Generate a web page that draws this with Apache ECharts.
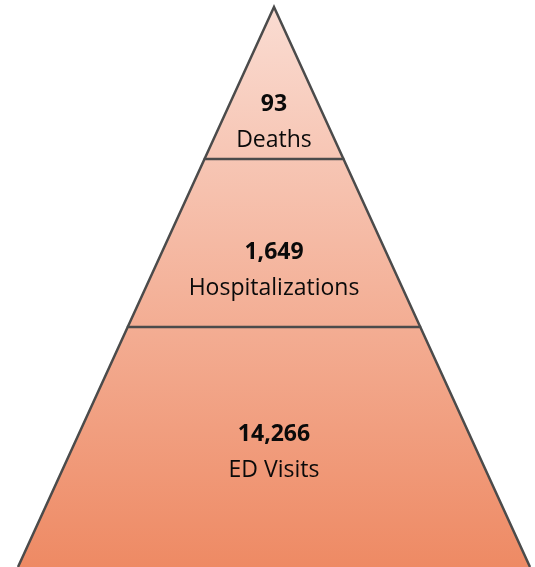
<!DOCTYPE html>
<html><head><meta charset="utf-8">
<script src="https://cdn.jsdelivr.net/npm/echarts@6/dist/echarts.min.js"></script>
<style>html,body{margin:0;padding:0;background:#fff}#c{width:535px;height:567px}</style>
</head><body><div id="c"></div>
<script>
// Data
const categories = ['Deaths', 'Hospitalizations', 'ED Visits'];
const values = [93, 1649, 14266];
const valueLabels = ['93', '1,649', '14,266'];

// Layout (pyramid geometry in axis units: level measured from apex downward)
const PYR_HEIGHT = 560, PYR_HALF = 256;
const tierBreaks = [0, 152, 320, 560];
const labelLevels = [115, 263.5, 445.5];

const chart = echarts.init(document.getElementById('c'), null, {renderer: 'canvas'});
const FONT = '"Open Sans", Lato, sans-serif';

function renderItem(params, api) {
  const i = params.dataIndex;
  const t = tierBreaks[i], b = tierBreaks[i + 1];
  const hw = l => PYR_HALF * l / PYR_HEIGHT;
  const tl = api.coord([-hw(t), t]), tr = api.coord([hw(t), t]);
  const br = api.coord([hw(b), b]), bl = api.coord([-hw(b), b]);
  const apex = api.coord([0, 0]);
  const base = api.coord([0, PYR_HEIGHT]);
  const lab = api.coord([0, labelLevels[i]]);
  const fill = {
    type: 'linear', x: 0, y: apex[1], x2: 0, y2: base[1], global: true,
    colorStops: [{offset: 0, color: '#fadcd2'}, {offset: 1, color: '#ee8a64'}]
  };
  return {
    type: 'group',
    children: [
      {type: 'polygon', shape: {points: [tl, tr, br, bl]}, style: {fill: fill}},
      {type: 'polyline', shape: {points: [bl, tl, tr, br]},
       style: {fill: 'none', stroke: '#4b4b4b', lineWidth: 2.5, lineJoin: 'miter', miterLimit: 20}},
      {type: 'text', x: lab[0], y: lab[1] - 18,
       style: {text: valueLabels[i], fill: '#0a0a0a', font: 'bold 23px ' + FONT, align: 'center', verticalAlign: 'middle'}},
      {type: 'text', x: lab[0], y: lab[1] + 18,
       style: {text: categories[i], fill: '#0a0a0a', font: '23px ' + FONT, align: 'center', verticalAlign: 'middle'}}
    ]
  };
}

chart.setOption({
  animation: false,
  grid: {left: 18, right: 5, top: 7, bottom: 0},
  xAxis: {type: 'value', min: -PYR_HALF, max: PYR_HALF, show: false},
  yAxis: {type: 'value', min: 0, max: PYR_HEIGHT, inverse: true, show: false},
  series: [{
    type: 'custom',
    renderItem: renderItem,
    clip: false,
    data: values.map((v, i) => [i, v])
  }]
});
</script></body></html>
